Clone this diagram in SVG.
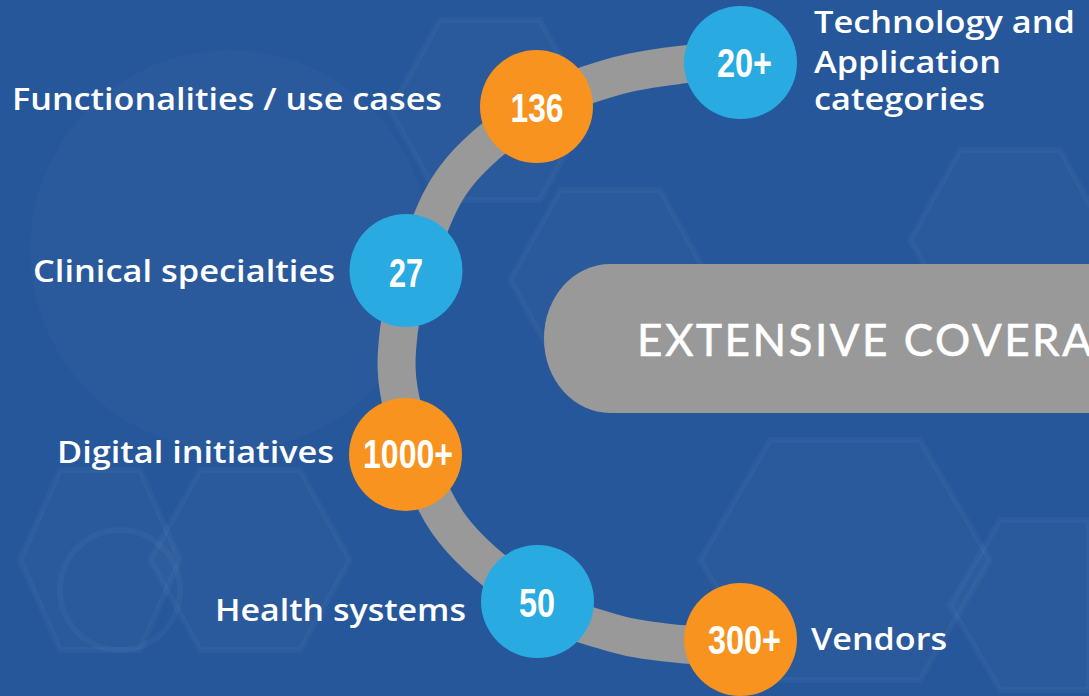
<svg xmlns="http://www.w3.org/2000/svg" width="1089" height="696" viewBox="0 0 1089 696">
<defs>
<style>
.bg{fill:#26579b}
.hex{fill:#ffffff;fill-opacity:0.018;stroke:#ffffff;stroke-opacity:0.03;stroke-width:6}
.band{fill:none;stroke:#999999;stroke-width:38}
.orange{fill:#f7931e}
.blue{fill:#29abe2}
.num{font-family:"Liberation Sans",Arial,sans-serif;font-weight:700;font-size:40px;fill:#ffffff}
.lbl{font-family:"Open Sans","Noto Sans",sans-serif;font-weight:600;font-size:31px;fill:#ffffff}
.title{font-family:Lato,"Liberation Sans",sans-serif;font-weight:400;font-size:44px;fill:#ffffff;stroke:#ffffff;stroke-width:0.6}
</style>
</defs>
<rect class="bg" x="0" y="0" width="1089" height="696"/>
<g id="background-pattern">
<circle cx="230" cy="250" r="200" fill="#ffffff" fill-opacity="0.02"/>
<polygon class="hex" points="200,470 300,470 350,560 300,650 200,650 150,560"/>
<polygon class="hex" points="60,470 140,470 180,560 140,650 60,650 20,560"/>
<circle cx="120" cy="590" r="60" fill="none" stroke="#ffffff" stroke-opacity="0.03" stroke-width="6"/>
<polygon class="hex" points="770,440 920,440 990,560 920,680 770,680 700,560"/>
<polygon class="hex" points="960,150 1060,150 1110,240 1060,330 960,330 910,240"/>
<polygon class="hex" points="560,190 660,190 710,280 660,370 560,370 510,280"/>
<polygon class="hex" points="1000,520 1089,520 1089,690 1000,690 950,605"/>
<polygon class="hex" points="440,20 540,20 590,110 540,200 440,200 390,110"/>
</g>
<g id="connectors">
<path class="band" d="M745,60 C724.3,61.5 705,61.7 683,64.5 C661,67.3 637.5,69.75 613,77 C588.5,84.25 561.3,92.5 536,108 C510.7,123.5 479.7,148 461,170 C442.3,192 434.3,213.3 424,240 C413.7,266.7 402.5,301.7 399,330 C395.5,358.3 394.8,377.8 403,410 C411.2,442.2 425.7,491 448,523 C470.3,555 509.5,583.7 537,602 C564.5,620.3 589.2,626 613,633 C636.8,640 658,641.8 680,644 C702,646.2 723.3,645.3 745,646"/>
</g>
<g id="title-box">
<rect x="544" y="264" width="620" height="149" rx="66" ry="74" fill="#999999"/>
<text class="title" x="637" y="356" textLength="455" lengthAdjust="spacing">EXTENSIVE COVERA</text>
</g>
<g id="node-tech">
<circle class="blue" cx="740.5" cy="62.5" r="56.5"/>
<text class="num" x="717" y="77" textLength="55" lengthAdjust="spacingAndGlyphs">20+</text>
<text class="lbl" x="814" y="33" textLength="261" lengthAdjust="spacingAndGlyphs">Technology and</text>
<text class="lbl" x="814" y="73" textLength="187" lengthAdjust="spacingAndGlyphs">Application</text>
<text class="lbl" x="814" y="110" textLength="171" lengthAdjust="spacingAndGlyphs">categories</text>
</g>
<g id="node-functionalities">
<circle class="orange" cx="536.5" cy="106.5" r="56.5"/>
<text class="num" x="510.5" y="122" textLength="53" lengthAdjust="spacingAndGlyphs">136</text>
<text class="lbl" x="12" y="110" textLength="430" lengthAdjust="spacingAndGlyphs">Functionalities / use cases</text>
</g>
<g id="node-clinical">
<circle class="blue" cx="406" cy="270.5" r="56.5"/>
<text class="num" x="389" y="287" textLength="34" lengthAdjust="spacingAndGlyphs">27</text>
<text class="lbl" x="33" y="282" textLength="302" lengthAdjust="spacingAndGlyphs">Clinical specialties</text>
</g>
<g id="node-digital">
<circle class="orange" cx="405.5" cy="454.5" r="56.5"/>
<text class="num" x="363" y="468" textLength="90" lengthAdjust="spacingAndGlyphs">1000+</text>
<text class="lbl" x="57" y="463" textLength="277" lengthAdjust="spacingAndGlyphs">Digital initiatives</text>
</g>
<g id="node-health">
<circle class="blue" cx="537.5" cy="601.5" r="56.5"/>
<text class="num" x="519" y="617" textLength="36" lengthAdjust="spacingAndGlyphs">50</text>
<text class="lbl" x="215" y="621" textLength="251" lengthAdjust="spacingAndGlyphs">Health systems</text>
</g>
<g id="node-vendors">
<circle class="orange" cx="740.5" cy="639.5" r="56.5"/>
<text class="num" x="708" y="654" textLength="73" lengthAdjust="spacingAndGlyphs">300+</text>
<text class="lbl" x="811" y="650" textLength="136" lengthAdjust="spacingAndGlyphs">Vendors</text>
</g>
</svg>
